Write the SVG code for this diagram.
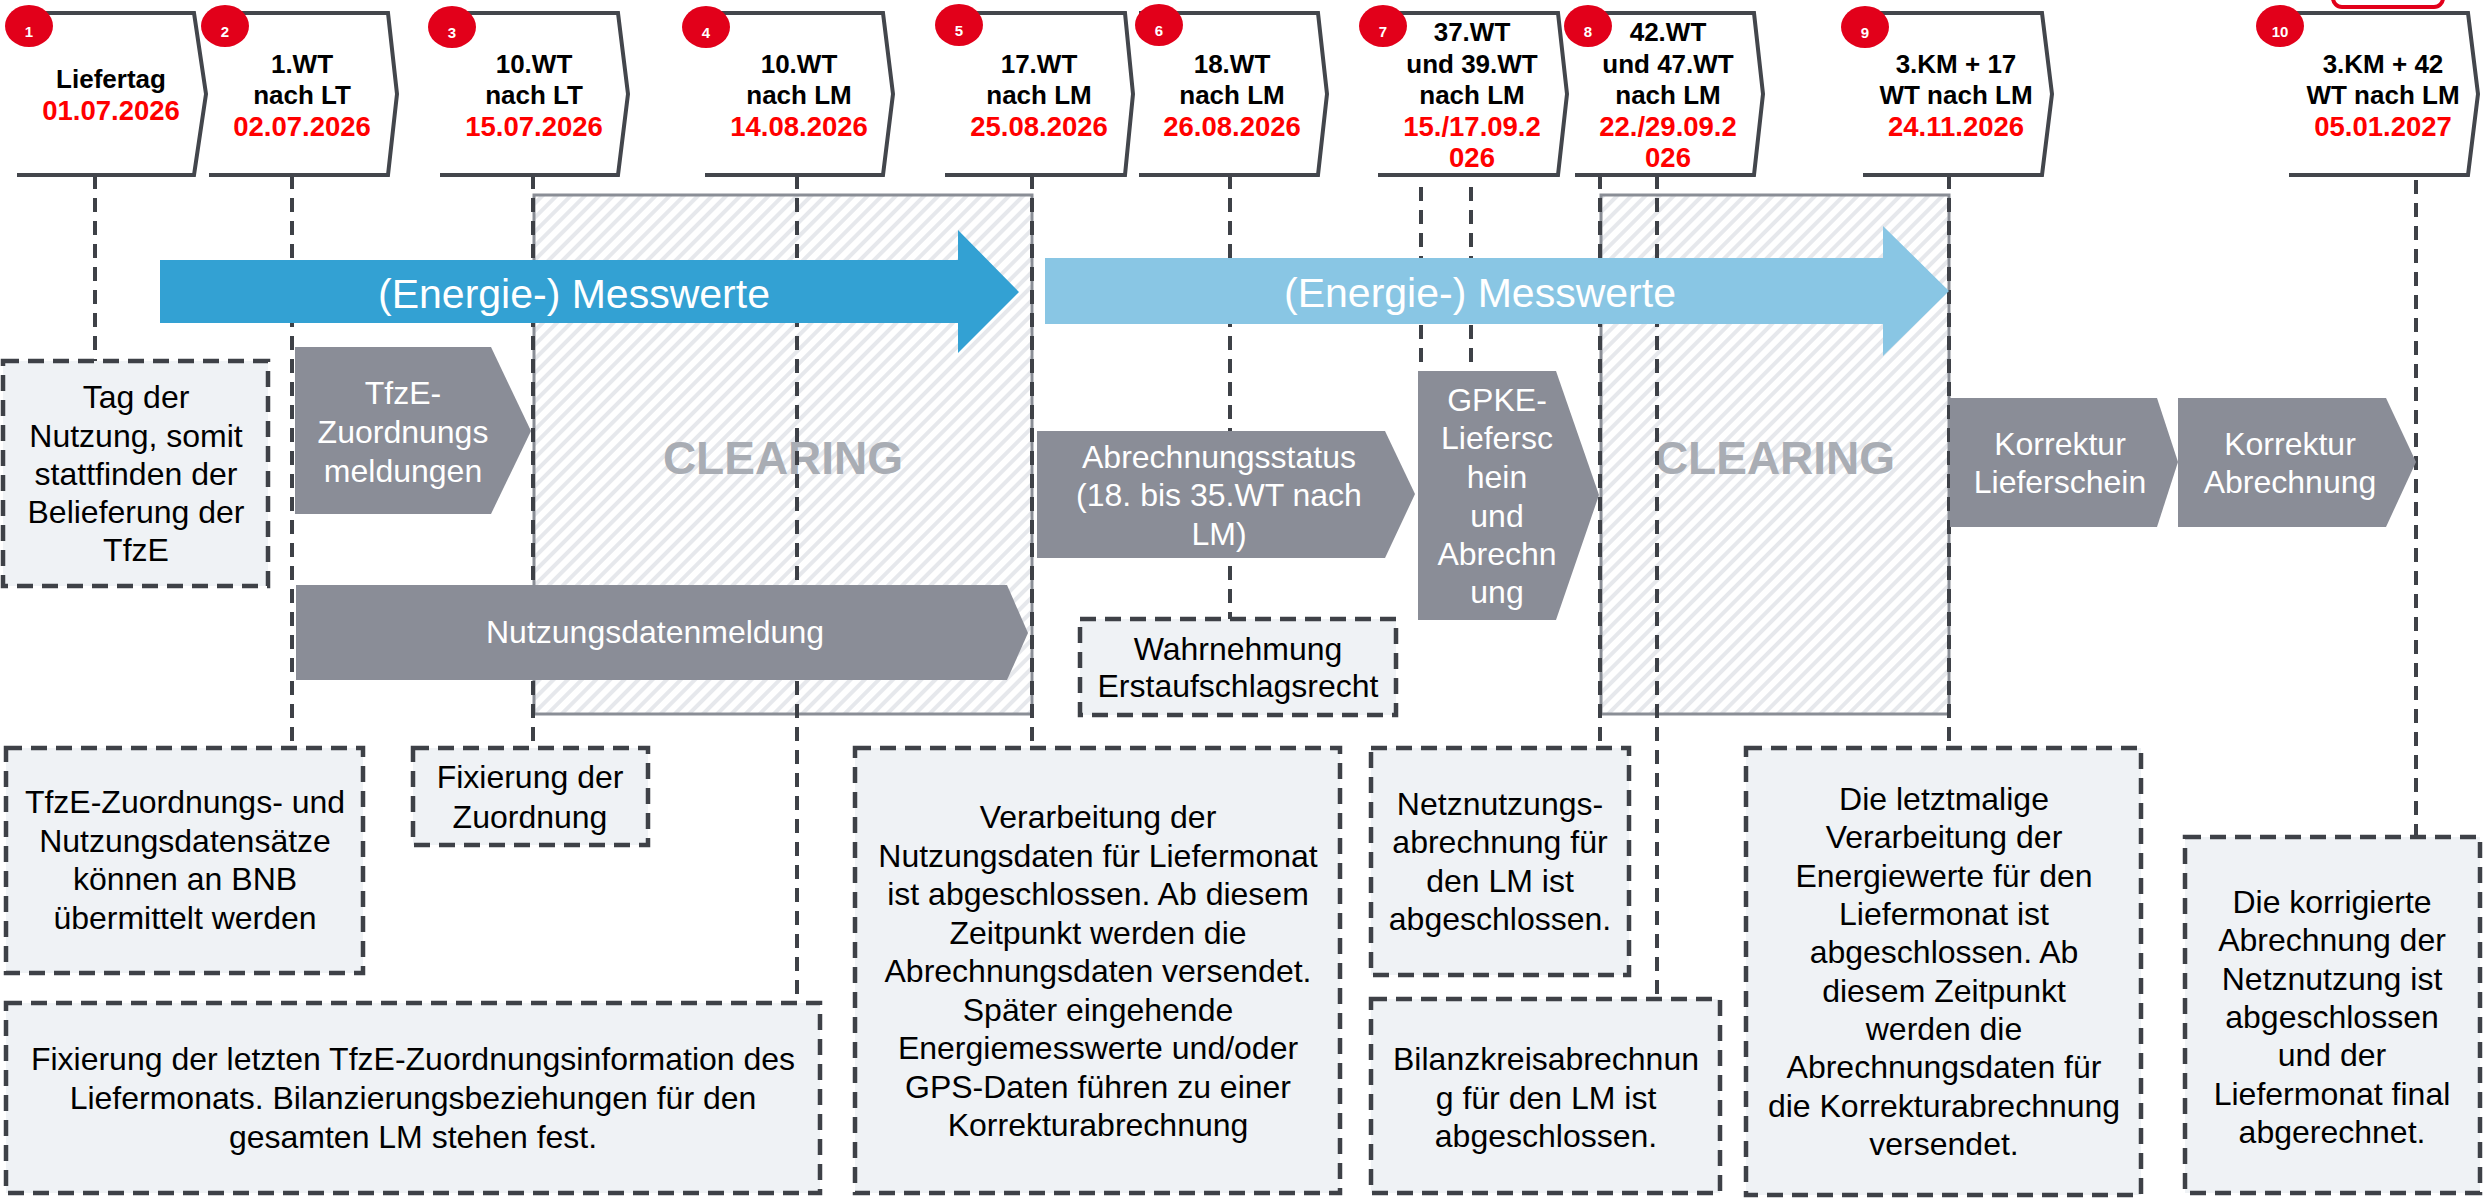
<svg xmlns="http://www.w3.org/2000/svg" width="2483" height="1199" viewBox="0 0 2483 1199">
<style>
.hdr{fill:#fff;stroke:#43464C;stroke-width:4}
.num{fill:#E2001A}
.numt{font-family:"Liberation Sans",Arial,sans-serif;font-weight:bold;font-size:15px;fill:#fff;text-anchor:middle}
.ht{font-family:"Liberation Sans",Arial,sans-serif;font-weight:bold;font-size:26px;fill:#000;text-anchor:middle}
.hd{font-size:27.5px;fill:#FF0000}
.conn{stroke:#3E4147;stroke-width:4;stroke-dasharray:14 9;fill:none}
.box{fill:#EFF2F5;stroke:#3E4147;stroke-width:4.5;stroke-dasharray:16 9}
.bt{font-family:"Liberation Sans",Arial,sans-serif;font-size:32px;fill:#000;text-anchor:middle}
.gs{fill:#8A8D97}
.wt{fill:#fff}
.clr{fill:url(#hatch);stroke:#8A8E96;stroke-width:3}
.clt{font-family:"Liberation Sans",Arial,sans-serif;font-weight:bold;font-size:46px;fill:#A9ADB4;text-anchor:middle}
.arr{font-family:"Liberation Sans",Arial,sans-serif;font-size:41px;fill:#fff;text-anchor:middle}
</style>
<defs>
<pattern id="hatch" width="10" height="10" patternUnits="userSpaceOnUse" patternTransform="rotate(45)">
<rect width="10" height="10" fill="#fff"/>
<rect width="4" height="10" fill="#E6E8EC"/>
</pattern>
</defs>
<rect width="2483" height="1199" fill="#fff"/>

<g id="clearing-1">
<rect class="clr" x="534" y="195" width="498" height="519"/>
<text class="clt" x="783" y="474">CLEARING</text>
</g>
<g id="clearing-2">
<rect class="clr" x="1601" y="195" width="348" height="519"/>
<text class="clt" x="1775" y="474">CLEARING</text>
</g>

<g id="connectors">
<line class="conn" x1="95" y1="175" x2="95" y2="361"/>
<line class="conn" x1="292" y1="175" x2="292" y2="748"/>
<line class="conn" x1="533" y1="175" x2="533" y2="748"/>
<line class="conn" x1="797" y1="175" x2="797" y2="1003"/>
<line class="conn" x1="1032" y1="175" x2="1032" y2="748"/>
<line class="conn" x1="1230" y1="175" x2="1230" y2="619"/>
<line class="conn" x1="1421" y1="187" x2="1421" y2="371"/>
<line class="conn" x1="1471" y1="187" x2="1471" y2="371"/>
<line class="conn" x1="1600" y1="175" x2="1600" y2="748"/>
<line class="conn" x1="1657" y1="175" x2="1657" y2="999"/>
<line class="conn" x1="1949" y1="175" x2="1949" y2="748"/>
<line class="conn" x1="2416" y1="180" x2="2416" y2="837"/>
</g>

<g id="header-1"><path class="hdr" d="M17,13 H194 L206,94 L194,175 H17"/>
<text class="ht" x="111" y="88">Liefertag</text><text class="ht hd" x="111" y="120">01.07.2026</text></g>
<g id="header-2"><path class="hdr" d="M209,13 H388 L397,94 L388,175 H209"/>
<text class="ht" x="302" y="73">1.WT</text><text class="ht" x="302" y="104">nach LT</text><text class="ht hd" x="302" y="136">02.07.2026</text></g>
<g id="header-3"><path class="hdr" d="M440,13 H618 L628,94 L618,175 H440"/>
<text class="ht" x="534" y="73">10.WT</text><text class="ht" x="534" y="104">nach LT</text><text class="ht hd" x="534" y="136">15.07.2026</text></g>
<g id="header-4"><path class="hdr" d="M705,13 H883 L893,94 L883,175 H705"/>
<text class="ht" x="799" y="73">10.WT</text><text class="ht" x="799" y="104">nach LM</text><text class="ht hd" x="799" y="136">14.08.2026</text></g>
<g id="header-5"><path class="hdr" d="M945,13 H1125 L1133,94 L1125,175 H945"/>
<text class="ht" x="1039" y="73">17.WT</text><text class="ht" x="1039" y="104">nach LM</text><text class="ht hd" x="1039" y="136">25.08.2026</text></g>
<g id="header-6"><path class="hdr" d="M1139,13 H1318 L1327,94 L1318,175 H1139"/>
<text class="ht" x="1232" y="73">18.WT</text><text class="ht" x="1232" y="104">nach LM</text><text class="ht hd" x="1232" y="136">26.08.2026</text></g>
<g id="header-7"><path class="hdr" d="M1378,13 H1558 L1567,94 L1558,175 H1378"/>
<text class="ht" x="1472" y="41">37.WT</text><text class="ht" x="1472" y="73">und 39.WT</text><text class="ht" x="1472" y="104">nach LM</text><text class="ht hd" x="1472" y="136">15./17.09.2</text><text class="ht hd" x="1472" y="167">026</text></g>
<g id="header-8"><path class="hdr" d="M1575,13 H1754 L1763,94 L1754,175 H1575"/>
<text class="ht" x="1668" y="41">42.WT</text><text class="ht" x="1668" y="73">und 47.WT</text><text class="ht" x="1668" y="104">nach LM</text><text class="ht hd" x="1668" y="136">22./29.09.2</text><text class="ht hd" x="1668" y="167">026</text></g>
<g id="header-9"><path class="hdr" d="M1863,13 H2042 L2052,94 L2042,175 H1863"/>
<text class="ht" x="1956" y="73">3.KM + 17</text><text class="ht" x="1956" y="104">WT nach LM</text><text class="ht hd" x="1956" y="136">24.11.2026</text></g>
<g id="header-10"><path class="hdr" d="M2289,13 H2468 L2478,94 L2468,175 H2289"/>
<text class="ht" x="2383" y="73">3.KM + 42</text><text class="ht" x="2383" y="104">WT nach LM</text><text class="ht hd" x="2383" y="136">05.01.2027</text></g>

<g id="badges">
<rect x="2333" y="-30" width="110" height="37" rx="9" fill="#fff" stroke="#E2001A" stroke-width="4"/>
<ellipse class="num" cx="29" cy="26" rx="24" ry="21"/><text class="numt" x="29" y="37">1</text>
<ellipse class="num" cx="225" cy="26" rx="24" ry="21"/><text class="numt" x="225" y="37">2</text>
<ellipse class="num" cx="452" cy="27" rx="24" ry="21"/><text class="numt" x="452" y="38">3</text>
<ellipse class="num" cx="706" cy="27" rx="24" ry="21"/><text class="numt" x="706" y="38">4</text>
<ellipse class="num" cx="959" cy="25" rx="24" ry="21"/><text class="numt" x="959" y="36">5</text>
<ellipse class="num" cx="1159" cy="25" rx="24" ry="21"/><text class="numt" x="1159" y="36">6</text>
<ellipse class="num" cx="1383" cy="26" rx="24" ry="21"/><text class="numt" x="1383" y="37">7</text>
<ellipse class="num" cx="1588" cy="26" rx="24" ry="21"/><text class="numt" x="1588" y="37">8</text>
<ellipse class="num" cx="1865" cy="27" rx="24" ry="21"/><text class="numt" x="1865" y="38">9</text>
<ellipse class="num" cx="2280" cy="26" rx="24" ry="21"/><text class="numt" x="2280" y="37">10</text>
</g>

<g id="messwerte-1">
<path fill="#33A1D3" d="M160,260 H958 V230 L1019,292 L958,353 V323 H160 Z"/>
<text class="arr" x="574" y="308">(Energie-) Messwerte</text>
</g>
<g id="messwerte-2">
<path fill="#89C6E4" d="M1045,258 H1883 V226 L1949,291 L1883,356 V324 H1045 Z"/>
<text class="arr" x="1480" y="307">(Energie-) Messwerte</text>
</g>

<g id="tfze-zuordnungsmeldungen">
<path class="gs" d="M295,347 H491 L531,431 L491,514 H295 Z"/>
<text class="bt wt"><tspan x="403" y="404">TfzE-</tspan><tspan x="403" y="443">Zuordnungs</tspan><tspan x="403" y="482">meldungen</tspan></text>
</g>
<g id="nutzungsdatenmeldung">
<path class="gs" d="M296,585 H1007 L1028,633 L1007,680 H296 Z"/>
<text class="bt wt" x="655" y="643">Nutzungsdatenmeldung</text>
</g>
<g id="abrechnungsstatus">
<path class="gs" d="M1037,431 H1385 L1415,494 L1385,558 H1037 Z"/>
<text class="bt wt"><tspan x="1219" y="468">Abrechnungsstatus</tspan><tspan x="1219" y="506">(18. bis 35.WT nach</tspan><tspan x="1219" y="545">LM)</tspan></text>
</g>
<g id="gpke">
<path class="gs" d="M1418,371 H1556 L1599,495 L1556,620 H1418 Z"/>
<text class="bt wt"><tspan x="1497" y="411">GPKE-</tspan><tspan x="1497" y="449">Liefersc</tspan><tspan x="1497" y="488">hein</tspan><tspan x="1497" y="527">und</tspan><tspan x="1497" y="565">Abrechn</tspan><tspan x="1497" y="603">ung</tspan></text>
</g>
<g id="korrektur-lieferschein">
<path class="gs" d="M1950,398 H2157 L2178,462 L2157,527 H1950 Z"/>
<text class="bt wt"><tspan x="2060" y="455">Korrektur</tspan><tspan x="2060" y="493">Lieferschein</tspan></text>
</g>
<g id="korrektur-abrechnung">
<path class="gs" d="M2178,398 H2386 L2416,462 L2386,527 H2178 Z"/>
<text class="bt wt"><tspan x="2290" y="455">Korrektur</tspan><tspan x="2290" y="493">Abrechnung</tspan></text>
</g>

<g id="note-tag">
<rect class="box" x="3" y="361" width="265" height="225"/>
<text class="bt"><tspan x="136" y="408">Tag der</tspan><tspan x="136" y="447">Nutzung, somit</tspan><tspan x="136" y="485">stattfinden der</tspan><tspan x="136" y="523">Belieferung der</tspan><tspan x="136" y="561">TfzE</tspan></text>
</g>
<g id="note-wahrnehmung">
<rect class="box" x="1080" y="619" width="316" height="96"/>
<text class="bt"><tspan x="1238" y="660">Wahrnehmung</tspan><tspan x="1238" y="697">Erstaufschlagsrecht</tspan></text>
</g>
<g id="note-datensaetze">
<rect class="box" x="6" y="748" width="357" height="225"/>
<text class="bt"><tspan x="185" y="813">TfzE-Zuordnungs- und</tspan><tspan x="185" y="852">Nutzungsdatensätze</tspan><tspan x="185" y="890">können an BNB</tspan><tspan x="185" y="929">übermittelt werden</tspan></text>
</g>
<g id="note-fixierung">
<rect class="box" x="413" y="748" width="235" height="97"/>
<text class="bt"><tspan x="530" y="788">Fixierung der</tspan><tspan x="530" y="828">Zuordnung</tspan></text>
</g>
<g id="note-fixierung-letzte">
<rect class="box" x="6" y="1003" width="814" height="190"/>
<text class="bt"><tspan x="413" y="1070">Fixierung der letzten TfzE-Zuordnungsinformation des</tspan><tspan x="413" y="1109">Liefermonats. Bilanzierungsbeziehungen für den</tspan><tspan x="413" y="1148">gesamten LM stehen fest.</tspan></text>
</g>
<g id="note-verarbeitung">
<rect class="box" x="855" y="748" width="485" height="445"/>
<text class="bt"><tspan x="1098" y="828">Verarbeitung der</tspan><tspan x="1098" y="866.5">Nutzungsdaten für Liefermonat</tspan><tspan x="1098" y="905">ist abgeschlossen. Ab diesem</tspan><tspan x="1098" y="943.5">Zeitpunkt werden die</tspan><tspan x="1098" y="982">Abrechnungsdaten versendet.</tspan><tspan x="1098" y="1020.5">Später eingehende</tspan><tspan x="1098" y="1059">Energiemesswerte und/oder</tspan><tspan x="1098" y="1097.5">GPS-Daten führen zu einer</tspan><tspan x="1098" y="1136">Korrekturabrechnung</tspan></text>
</g>
<g id="note-netznutzung">
<rect class="box" x="1371" y="748" width="258" height="227"/>
<text class="bt"><tspan x="1500" y="815">Netznutzungs-</tspan><tspan x="1500" y="853">abrechnung für</tspan><tspan x="1500" y="892">den LM ist</tspan><tspan x="1500" y="930">abgeschlossen.</tspan></text>
</g>
<g id="note-bilanzkreis">
<rect class="box" x="1371" y="999" width="349" height="194"/>
<text class="bt"><tspan x="1546" y="1070">Bilanzkreisabrechnun</tspan><tspan x="1546" y="1109">g für den LM ist</tspan><tspan x="1546" y="1147">abgeschlossen.</tspan></text>
</g>
<g id="note-letztmalig">
<rect class="box" x="1746" y="748" width="395" height="447"/>
<text class="bt"><tspan x="1944" y="810">Die letztmalige</tspan><tspan x="1944" y="848">Verarbeitung der</tspan><tspan x="1944" y="887">Energiewerte für den</tspan><tspan x="1944" y="925">Liefermonat ist</tspan><tspan x="1944" y="963">abgeschlossen. Ab</tspan><tspan x="1944" y="1002">diesem Zeitpunkt</tspan><tspan x="1944" y="1040">werden die</tspan><tspan x="1944" y="1078">Abrechnungsdaten für</tspan><tspan x="1944" y="1117">die Korrekturabrechnung</tspan><tspan x="1944" y="1155">versendet.</tspan></text>
</g>
<g id="note-korrigiert">
<rect class="box" x="2185" y="837" width="295" height="356"/>
<text class="bt"><tspan x="2332" y="913">Die korrigierte</tspan><tspan x="2332" y="951">Abrechnung der</tspan><tspan x="2332" y="990">Netznutzung ist</tspan><tspan x="2332" y="1028">abgeschlossen</tspan><tspan x="2332" y="1066">und der</tspan><tspan x="2332" y="1105">Liefermonat final</tspan><tspan x="2332" y="1143">abgerechnet.</tspan></text>
</g>
</svg>
